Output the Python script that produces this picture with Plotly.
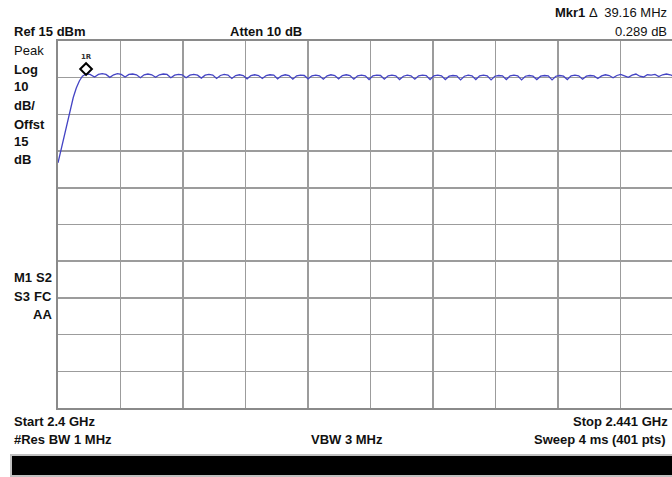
import plotly.graph_objects as go

# ---------------- data ----------------
freq_mhz = [
    2400.0, 2400.2, 2400.4, 2400.6, 2400.8, 2401.0, 2401.2, 2401.4, 2401.6, 2401.85, 2402.1,
    2402.4, 2402.65, 2402.9, 2403.15,
    2403.4, 2403.65, 2403.9, 2404.15,
    2404.4, 2404.65, 2404.9, 2405.15,
    2405.4, 2405.65, 2405.9, 2406.15,
    2406.4, 2406.65, 2406.9, 2407.15,
    2407.4, 2407.65, 2407.9, 2408.15,
    2408.4, 2408.65, 2408.9, 2409.15,
    2409.4, 2409.65, 2409.9, 2410.15,
    2410.4, 2410.65, 2410.9, 2411.15,
    2411.4, 2411.65, 2411.9, 2412.15,
    2412.4, 2412.65, 2412.9, 2413.15,
    2413.4, 2413.65, 2413.9, 2414.15,
    2414.4, 2414.65, 2414.9, 2415.15,
    2415.4, 2415.65, 2415.9, 2416.15,
    2416.4, 2416.65, 2416.9, 2417.15,
    2417.4, 2417.65, 2417.9, 2418.15,
    2418.4, 2418.65, 2418.9, 2419.15,
    2419.4, 2419.65, 2419.9, 2420.15,
    2420.4, 2420.65, 2420.9, 2421.15,
    2421.4, 2421.65, 2421.9, 2422.15,
    2422.4, 2422.65, 2422.9, 2423.15,
    2423.4, 2423.65, 2423.9, 2424.15,
    2424.4, 2424.65, 2424.9, 2425.15,
    2425.4, 2425.65, 2425.9, 2426.15,
    2426.4, 2426.65, 2426.9, 2427.15,
    2427.4, 2427.65, 2427.9, 2428.15,
    2428.4, 2428.65, 2428.9, 2429.15,
    2429.4, 2429.65, 2429.9, 2430.15,
    2430.4, 2430.65, 2430.9, 2431.15,
    2431.4, 2431.65, 2431.9, 2432.15,
    2432.4, 2432.65, 2432.9, 2433.15,
    2433.4, 2433.65, 2433.9, 2434.15,
    2434.4, 2434.65, 2434.9, 2435.15,
    2435.4, 2435.65, 2435.9, 2436.15,
    2436.4, 2436.65, 2436.9, 2437.15,
    2437.4, 2437.65, 2437.9, 2438.15,
    2438.4, 2438.65, 2438.9, 2439.15,
    2439.4, 2439.65, 2439.9, 2440.15,
    2440.4, 2440.65, 2440.9, 2441.0,
]
level_dbm = [
    -18.2, -14.5, -10.9, -7.3, -3.7, -0.4, 2.2, 4.1, 5.4, 6.0, 5.9,
    5.2, 5.9, 6.1, 5.9,
    5.1, 5.8, 6.1, 5.9,
    5.2, 5.9, 6.0, 5.8,
    5.0, 5.8, 6.0, 5.8,
    5.1, 5.8, 6.0, 5.9,
    5.0, 5.7, 5.9, 5.8,
    5.0, 5.7, 5.9, 5.7,
    4.9, 5.7, 5.9, 5.7,
    4.8, 5.6, 5.9, 5.7,
    4.8, 5.6, 5.8, 5.6,
    4.7, 5.6, 5.8, 5.6,
    4.8, 5.6, 5.8, 5.7,
    4.7, 5.5, 5.8, 5.6,
    4.6, 5.5, 5.7, 5.6,
    4.7, 5.5, 5.7, 5.5,
    4.6, 5.5, 5.8, 5.6,
    4.7, 5.6, 5.8, 5.6,
    4.6, 5.5, 5.7, 5.5,
    4.5, 5.5, 5.7, 5.6,
    4.6, 5.5, 5.7, 5.5,
    4.5, 5.4, 5.7, 5.5,
    4.6, 5.5, 5.7, 5.6,
    4.5, 5.5, 5.7, 5.5,
    4.5, 5.4, 5.6, 5.5,
    4.4, 5.4, 5.7, 5.5,
    4.5, 5.5, 5.7, 5.5,
    4.4, 5.4, 5.6, 5.5,
    4.5, 5.5, 5.7, 5.5,
    4.4, 5.4, 5.6, 5.4,
    4.5, 5.4, 5.6, 5.5,
    4.4, 5.4, 5.6, 5.4,
    4.5, 5.5, 5.7, 5.5,
    4.6, 5.4, 5.6, 5.5,
    4.8, 5.5, 5.8, 5.6,
    5.0, 5.6, 5.9, 5.5,
    5.1, 5.7, 6.0, 5.4,
    5.2, 5.8, 5.7, 5.9,
    5.3, 5.8, 6.0, 5.8,
    5.4, 5.8, 5.9, 5.8,
]

marker_freq_mhz = [2401.84]
marker_level_dbm = [6.0]
marker_labels = ["1R"]

start_mhz = 2400.0
stop_mhz = 2441.0
ref_dbm = 15.0
db_per_div = 10.0
n_div = 10

# ---------------- layout helpers ----------------
W, H = 672, 477
L, T, B, R = 58, 41, 408, 672
PW, PH = R - L, B - T
full_width_px = 625.2  # 10 divisions; the right part is cut off in the screenshot
visible_stop = start_mhz + (stop_mhz - start_mhz) * PW / full_width_px

def px(x):
    return (x - L) / PW

def py(y):
    return (B - y) / PH

FONT = "Liberation Sans, Arial, sans-serif"
bottom_db = ref_dbm - db_per_div * n_div
shift_db = 5 * db_per_div / (PH / n_div)  # marker glyph sits 5 px above the trace

fig = go.Figure()
fig.add_trace(go.Scatter(
    x=freq_mhz, y=level_dbm, mode="lines",
    line=dict(color="#4444c4", width=1.3), hoverinfo="skip", showlegend=False,
))
fig.add_trace(go.Scatter(
    x=marker_freq_mhz, y=marker_level_dbm, mode="markers", yaxis="y2",
    marker=dict(symbol="diamond-open", size=9, line=dict(color="black", width=2), color="black"),
    hoverinfo="skip", showlegend=False,
))

ann = []
def text(x, y, s, anchor="left", bold=True, size=13, color="#111111"):
    ann.append(dict(
        x=px(x), y=py(y), xref="paper", yref="paper", showarrow=False,
        text=("<b>%s</b>" % s) if bold else s, xanchor=anchor, yanchor="middle",
        font=dict(family=FONT, size=size, color=color),
    ))

text(12, 31, "Ref 15 dBm")
text(266, 31, "Atten 10 dB", anchor="center")
ann.append(dict(
    x=px(669), y=py(13), xref="paper", yref="paper", showarrow=False,
    text="<b>Mkr1</b> Δ  39.16 MHz", xanchor="right", yanchor="middle",
    font=dict(family=FONT, size=13, color="#111111"),
))
text(669, 31, "0.289 dB", anchor="right", bold=False)

text(12, 50, "Peak", bold=False)
for yy, s in [(69, "Log"), (87, "10"), (105, "dB/"), (124, "Offst"), (141, "15"), (159, "dB")]:
    text(12, yy, s)

text(12, 277, "M1")
text(54, 277, "S2", anchor="right")
text(12, 296, "S3")
text(54, 296, "FC", anchor="right")
text(54, 315, "AA", anchor="right")

text(12, 421, "Start 2.4 GHz")
text(670, 421, "Stop 2.441 GHz", anchor="right")
text(12, 439, "#Res BW 1 MHz")
text(347, 439, "VBW 3 MHz", anchor="center")
text(668, 439, "Sweep 4 ms (401 pts)", anchor="right")

for f, lv, lab in zip(marker_freq_mhz, marker_level_dbm, marker_labels):
    ann.append(dict(
        x=f, y=lv, xref="x", yref="y2", showarrow=False, text="<b>%s</b>" % lab,
        yshift=12, xanchor="center", yanchor="middle",
        font=dict(family="DejaVu Sans, sans-serif", size=7, color="#333333"),
    ))

shapes = [
    dict(type="rect", xref="paper", yref="paper",
         x0=px(11), x1=px(680), y0=py(476), y1=py(455),
         fillcolor="black", line=dict(color="#c0c0c0", width=2)),
]

fig.update_layout(
    width=W, height=H,
    margin=dict(l=L, r=W - R, t=T, b=H - B, pad=0),
    paper_bgcolor="white", plot_bgcolor="white",
    xaxis=dict(range=[start_mhz, visible_stop], tick0=start_mhz,
               dtick=(stop_mhz - start_mhz) / n_div, showticklabels=False, ticks="",
               showgrid=True, gridcolor="#9c9c9c", gridwidth=1.5, zeroline=False,
               showline=True, linecolor="#8a8a8a", linewidth=2, mirror=True),
    yaxis=dict(range=[bottom_db, ref_dbm], tick0=ref_dbm, dtick=db_per_div,
               showticklabels=False, ticks="", showgrid=True, gridcolor="#9c9c9c",
               gridwidth=1.5, zeroline=False, showline=True, linecolor="#8a8a8a", linewidth=2),
    yaxis2=dict(range=[bottom_db - shift_db, ref_dbm - shift_db], overlaying="y",
                visible=False),
    annotations=ann,
    shapes=shapes,
    showlegend=False,
)

fig.write_html(
    "out.html",
    config={"displayModeBar": False, "staticPlot": True},
    post_script="document.body.style.margin='0';document.body.style.overflow='hidden';",
)
